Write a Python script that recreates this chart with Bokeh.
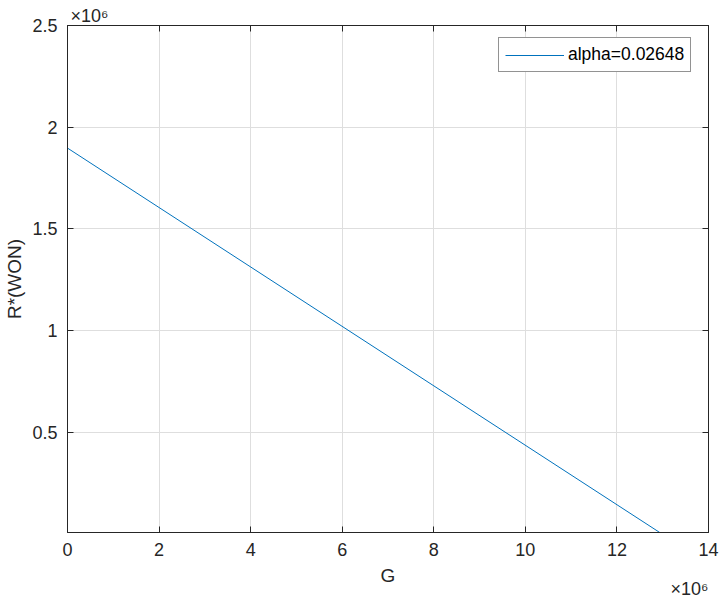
from bokeh.plotting import figure
from bokeh.models import (Range1d, FixedTicker, CustomJSTickFormatter, LinearAxis,
                          Legend, LegendItem, Title)
from bokeh.embed import file_html
from bokeh.resources import INLINE

# ---- data ----
G = [0.0, 12.935e6]
R = [1.897e6, 0.006e6]
series_label = "alpha=0.02648"
x_ticks = [0, 2e6, 4e6, 6e6, 8e6, 10e6, 12e6, 14e6]
y_ticks = [0.5e6, 1.0e6, 1.5e6, 2.0e6, 2.5e6]
x_label = "G"
y_label = "R*(WON)"
exp_text = "\u00d710\u2076"

FONT = "Liberation Sans"
TXT = "#262626"
GRID = "#dedede"
LINE = "#0072BD"

p = figure(width=723, height=599, output_backend="svg", toolbar_location=None,
           x_range=Range1d(0, 14e6), y_range=Range1d(R[-1], 2.5e6),
           min_border_left=67, min_border_right=15, min_border_top=25, min_border_bottom=67)
p.background_fill_color = "white"
p.border_fill_color = "white"
p.outline_line_color = TXT
p.outline_line_width = 1

fmt = CustomJSTickFormatter(code="return String(Math.round(tick/1e6*1000)/1000);")

for ax, ticks in ((p.xaxis[0], x_ticks), (p.yaxis[0], y_ticks)):
    ax.ticker = FixedTicker(ticks=ticks)
    ax.formatter = fmt
    ax.major_tick_in = 6
    ax.major_tick_out = 0
    ax.minor_tick_in = 0
    ax.minor_tick_out = 0
    ax.major_tick_line_color = TXT
    ax.axis_line_color = TXT
    ax.major_label_text_font = FONT
    ax.major_label_text_font_size = "18px"
    ax.major_label_text_color = TXT
    ax.axis_label_text_font = FONT
    ax.axis_label_text_font_size = "19px"
    ax.axis_label_text_font_style = "normal"
    ax.axis_label_text_color = TXT

p.xaxis[0].axis_label = x_label
p.xaxis[0].major_label_standoff = 10
p.xaxis[0].axis_label_standoff = 6
p.yaxis[0].axis_label = y_label
p.yaxis[0].major_label_standoff = 10
p.yaxis[0].axis_label_standoff = 4

# mirrored ticks on top and right
blank = CustomJSTickFormatter(code="return '';")
for loc, ticks in (("above", x_ticks), ("right", y_ticks)):
    a = LinearAxis(ticker=FixedTicker(ticks=ticks), formatter=blank,
                   major_tick_in=6, major_tick_out=0, minor_tick_in=0, minor_tick_out=0,
                   major_label_standoff=0, major_tick_line_color=TXT, axis_line_color=TXT,
                   major_label_text_font_size="1px")
    p.add_layout(a, loc)

for g, ticks in ((p.xgrid[0], x_ticks), (p.ygrid[0], y_ticks)):
    g.ticker = FixedTicker(ticks=ticks)
    g.grid_line_color = GRID
    g.grid_line_width = 1

r = p.line(G, R, line_color=LINE, line_width=1)

legend = Legend(items=[LegendItem(label=series_label, renderers=[r])],
                location=(431, 460), orientation="vertical",
                padding=6, spacing=0, margin=0, glyph_width=59, glyph_height=18,
                label_height=18, label_standoff=4,
                label_text_font=FONT, label_text_font_size="17.5px", label_text_color="#000000",
                border_line_color=TXT, border_line_width=1, background_fill_color="white",
                background_fill_alpha=1)
p.add_layout(legend, "center")

# exponent labels (titles so they are not clipped to the frame)
p.title.text = exp_text
p.title.align = "left"
p.title.offset = 3
p.title.standoff = -1
p.title.vertical_align = "bottom"
p.title.text_font = FONT
p.title.text_font_size = "18px"
p.title.text_font_style = "normal"
p.title.text_color = TXT

p.add_layout(Title(text=exp_text, align="right", offset=0, standoff=-20,
                   vertical_align="top", text_font=FONT, text_font_size="18px",
                   text_font_style="normal", text_color=TXT), "below")

open("out.html", "w").write(file_html(p, INLINE))
